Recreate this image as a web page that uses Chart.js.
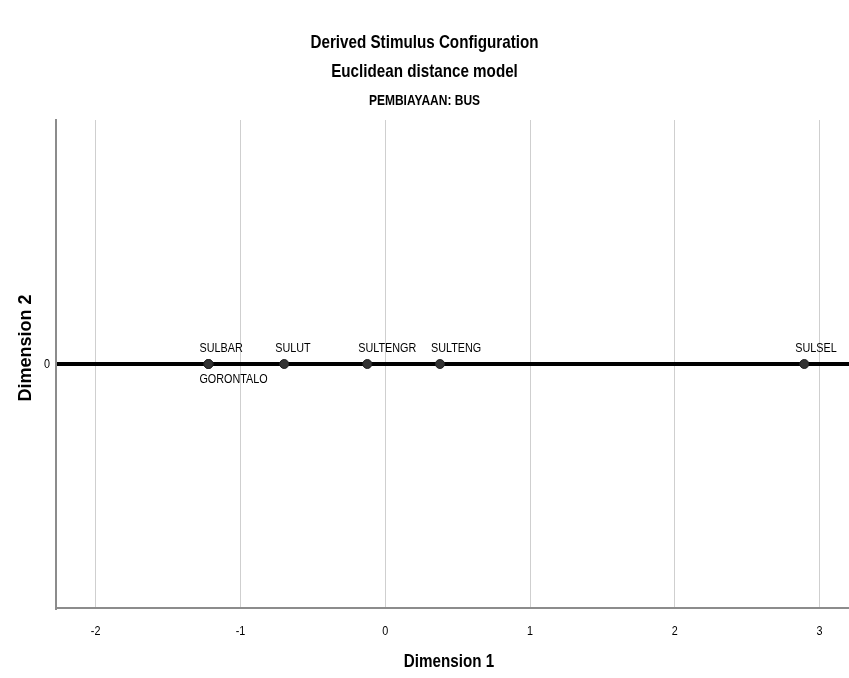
<!DOCTYPE html>
<html>
<head>
<meta charset="utf-8">
<script src="https://cdn.jsdelivr.net/npm/chart.js@4.4.1/dist/chart.umd.min.js"></script>
<style>
  html, body { margin: 0; padding: 0; background: #fff; }
  #wrap { width: 849px; height: 678px; position: relative; }
</style>
</head>
<body>
<div id="wrap"><canvas id="chart"></canvas></div>
<script>
// stimulus labels and coordinates (Dimension 1, Dimension 2)
const stimuli = ["SULBAR", "GORONTALO", "SULUT", "SULTENGR", "SULTENG", "SULSEL"];
const dim1 = [-1.221, -1.221, -0.698, -0.124, 0.378, 2.894];
const dim2 = [0, 0, 0, 0, 0, 0];
const xTicks = [-2, -1, 0, 1, 2, 3];
const yTicks = [0];

const sans = "'Liberation Sans', Arial, sans-serif";
const NARROW = 0.8; // no Arial Narrow here, so squeeze Liberation Sans

function narrowText(ctx, text, x, y, font, align, sx) {
  ctx.save();
  ctx.translate(x, y);
  ctx.scale(sx || NARROW, 1);
  ctx.font = font;
  ctx.textAlign = align || "center";
  ctx.textBaseline = "middle";
  ctx.fillStyle = "#000";
  ctx.fillText(text, 0, 0);
  ctx.restore();
}

// titles, axis titles and tick labels (SPSS look)
const textPlugin = {
  id: "spssText",
  afterDraw(chart) {
    const ctx = chart.ctx;
    const cx = chart.width / 2;
    const xs = chart.scales.x, ys = chart.scales.y;
    narrowText(ctx, "Derived Stimulus Configuration", cx, 43, "bold 19px " + sans);
    narrowText(ctx, "Euclidean distance model", cx, 72, "bold 19px " + sans);
    narrowText(ctx, "PEMBIAYAAN: BUS", cx, 101, "bold 15px " + sans);

    xTicks.forEach(v => {
      narrowText(ctx, String(v), xs.getPixelForValue(v), xs.top + 23, "13.5px " + sans);
    });
    yTicks.forEach(v => {
      narrowText(ctx, String(v), ys.left + 47, ys.getPixelForValue(v), "13.5px " + sans);
    });

    narrowText(ctx, "Dimension 1", 449, 662, "bold 19px " + sans);

    ctx.save();
    ctx.translate(26, 348);
    ctx.rotate(-Math.PI / 2);
    ctx.font = "bold 18px " + sans;
    ctx.textAlign = "center";
    ctx.textBaseline = "middle";
    ctx.fillStyle = "#000";
    ctx.fillText("Dimension 2", 0, 0);
    ctx.restore();
  }
};

// point labels, a second point on the same spot goes below
const labelPlugin = {
  id: "pointLabels",
  afterDatasetsDraw(chart) {
    const ctx = chart.ctx;
    const meta = chart.getDatasetMeta(0);
    meta.data.forEach((pt, i) => {
      let below = false;
      for (let j = 0; j < i; j++) {
        if (dim1[j] === dim1[i] && dim2[j] === dim2[i]) below = true;
      }
      narrowText(ctx, stimuli[i], pt.x - 9, below ? pt.y + 15 : pt.y - 16, "13.5px " + sans, "left");
    });
  }
};

new Chart(document.getElementById("chart"), {
  type: "scatter",
  data: {
    datasets: [{
      data: stimuli.map((s, i) => ({ x: dim1[i], y: dim2[i] })),
      backgroundColor: "#333",
      borderColor: "#222",
      borderWidth: 1,
      pointRadius: 4.5,
      pointHoverRadius: 4.5
    }]
  },
  options: {
    responsive: true,
    maintainAspectRatio: false,
    animation: false,
    events: [],
    layout: { autoPadding: false, padding: { top: 120, right: 0, left: 0, bottom: 0 } },
    plugins: {
      legend: { display: false },
      tooltip: { enabled: false }
    },
    scales: {
      x: {
        type: "linear",
        min: -2.274,
        max: 3.203,
        afterBuildTicks: scale => { scale.ticks = xTicks.map(v => ({ value: v })); },
        afterFit: scale => { scale.height = 70; },
        ticks: { display: false },
        grid: { color: "#cfcfcf", lineWidth: 1, drawTicks: false },
        border: { color: "#8c8c8c", width: 2 }
      },
      y: {
        type: "linear",
        min: -1,
        max: 1,
        afterBuildTicks: scale => { scale.ticks = yTicks.map(v => ({ value: v })); },
        afterFit: scale => { scale.width = 56; },
        ticks: { display: false },
        grid: { color: "#000", lineWidth: 4, drawTicks: false },
        border: { color: "#8c8c8c", width: 2 }
      }
    }
  },
  plugins: [textPlugin, labelPlugin]
});
</script>
</body>
</html>
